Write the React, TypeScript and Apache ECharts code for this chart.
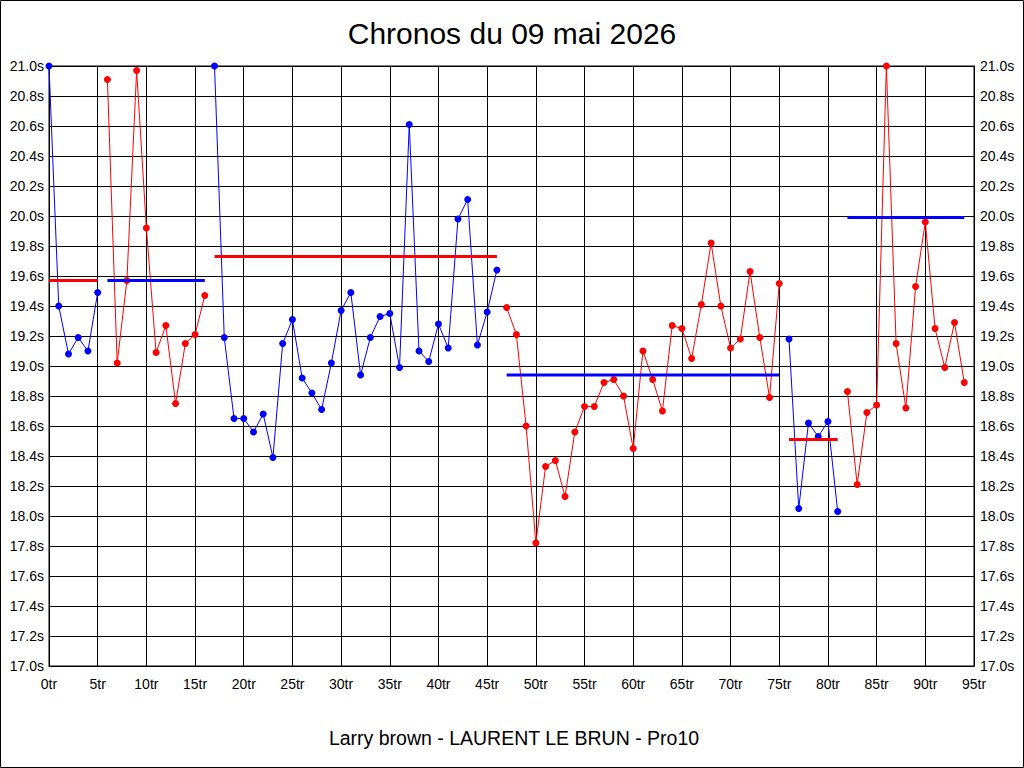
import React, { useEffect, useRef } from "react";
import * as echarts from "echarts";

// Lap times (seconds) per segment; values above 21.0 appear clipped at 21.0
const seg1 = [21.0, 19.4, 19.08, 19.19, 19.1, 19.49]; // laps 0-5
const seg2 = [20.91, 19.02, 19.57, 20.97, 19.92, 19.09, 19.27, 18.75, 19.15, 19.21, 19.47]; // laps 6-16
const seg3 = [
  21.0, 19.19, 18.65, 18.65, 18.56, 18.68, 18.39, 19.15, 19.31, 18.92, 18.82, 18.71, 19.02, 19.37, 19.49,
  18.94, 19.19, 19.33, 19.35, 18.99, 20.61, 19.1, 19.03, 19.28, 19.12, 19.98, 20.11, 19.14, 19.36, 19.64,
]; // laps 17-46
const seg4 = [
  19.39, 19.21, 18.6, 17.82, 18.33, 18.37, 18.13, 18.56, 18.73, 18.73, 18.89, 18.91, 18.8, 18.45, 19.1,
  18.91, 18.7, 19.27, 19.25, 19.05, 19.41, 19.82, 19.4, 19.12, 19.18, 19.63, 19.19, 18.79, 19.55,
]; // laps 47-75
const seg5 = [19.18, 18.05, 18.62, 18.53, 18.63, 18.03]; // laps 76-81
const seg6 = [18.83, 18.21, 18.69, 18.74, 21.0, 19.15, 18.72, 19.53, 19.96, 19.25, 18.99, 19.29, 18.89]; // laps 82-94

const segments = [seg1, seg2, seg3, seg4, seg5, seg6];
const segStarts = [0, 6, 17, 47, 76, 82];
const segAverages = [19.57, 19.57, 19.73, 18.94, 18.51, 19.99];
const segColors = ["#0000ff", "#ff0000", "#0000ff", "#ff0000", "#0000ff", "#ff0000"];
const avgColors = ["#ff0000", "#0000ff", "#ff0000", "#0000ff", "#ff0000", "#0000ff"];

const titleText = "Chronos du 09 mai 2026";
const subtitleText = "Larry brown - LAURENT LE BRUN - Pro10";

const FONT = "'Liberation Sans', Arial, Helvetica, sans-serif";

export default function App() {
  const ref = useRef<HTMLDivElement>(null);

  useEffect(() => {
    if (!ref.current) return;
    const chart = echarts.init(ref.current, undefined, { renderer: "svg" });

    const lineSeries: any[] = segments.map((seg, i) => ({
      type: "line",
      data: seg.map((v, j) => [segStarts[i] + j, v]),
      symbol: "circle",
      symbolSize: 7,
      showSymbol: true,
      lineStyle: { color: segColors[i], width: 1 },
      itemStyle: { color: segColors[i] },
      z: 3,
      clip: true,
    }));

    const avgSeries: any[] = segments.map((seg, i) => ({
      type: "line",
      data: [
        [segStarts[i], segAverages[i]],
        [segStarts[i] + seg.length - 1, segAverages[i]],
      ],
      symbol: "none",
      lineStyle: { color: avgColors[i], width: 3 },
      z: 4,
    }));

    const labelStyle = { color: "#000", fontSize: 14, fontFamily: FONT };

    chart.setOption({
      animation: false,
      backgroundColor: "#fff",
      textStyle: { fontFamily: FONT },
      grid: {
        left: 49,
        right: 50,
        top: 66,
        bottom: 102,
        show: true,
        borderColor: "#000",
        borderWidth: 1,
        containLabel: false,
      },
      xAxis: {
        type: "value",
        min: 0,
        max: 95,
        interval: 5,
        axisLine: { show: true, lineStyle: { color: "#000", width: 1 } },
        axisTick: { show: false },
        axisLabel: { ...labelStyle, margin: 11, formatter: (v: number) => `${Math.round(v)}tr` },
        splitLine: { show: true, lineStyle: { color: "#000", width: 1 } },
      },
      yAxis: [
        {
          type: "value",
          min: 17,
          max: 21,
          interval: 0.2,
          position: "left",
          axisLine: { show: true, lineStyle: { color: "#000", width: 1 } },
          axisTick: { show: false },
          axisLabel: { ...labelStyle, margin: 5, formatter: (v: number) => `${v.toFixed(1)}s` },
          splitLine: { show: true, lineStyle: { color: "#000", width: 1 } },
        },
        {
          type: "value",
          min: 17,
          max: 21,
          interval: 0.2,
          position: "right",
          axisLine: { show: true, lineStyle: { color: "#000", width: 1 } },
          axisTick: { show: false },
          axisLabel: { ...labelStyle, margin: 6, formatter: (v: number) => `${v.toFixed(1)}s` },
          splitLine: { show: false },
        },
      ],
      graphic: [
        {
          type: "rect",
          shape: { x: 0.5, y: 0.5, width: 1023, height: 767 },
          style: { fill: "none", stroke: "#000", lineWidth: 1 },
          silent: true,
        },
        {
          type: "text",
          x: 512,
          y: 33,
          style: {
            text: titleText,
            fill: "#000",
            fontSize: 30,
            fontFamily: FONT,
            textAlign: "center",
            textVerticalAlign: "middle",
          },
        },
        {
          type: "text",
          x: 514,
          y: 738,
          style: {
            text: subtitleText,
            fill: "#000",
            fontSize: 19.5,
            fontFamily: FONT,
            textAlign: "center",
            textVerticalAlign: "middle",
          },
        },
      ],
      series: [...lineSeries, ...avgSeries],
    });

    return () => {
      chart.dispose();
    };
  }, []);

  return (
    <div
      ref={ref}
      style={{ position: "fixed", left: 0, top: 0, width: 1024, height: 768, background: "#fff" }}
    />
  );
}
